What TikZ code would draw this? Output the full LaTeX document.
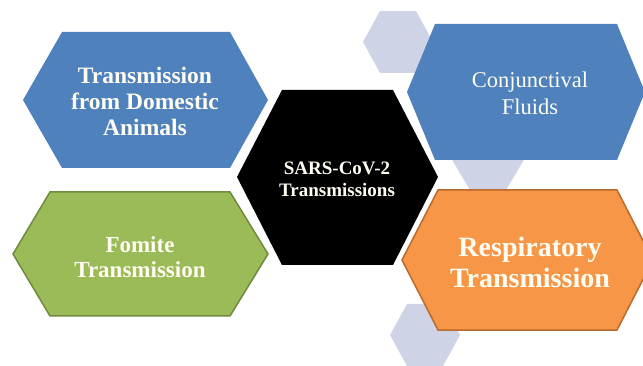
\documentclass[tikz,border=0pt]{standalone}
\usepackage{fontspec}
\setmainfont{Liberation Serif}

\definecolor{hexblue}{HTML}{4F81BD}
\definecolor{hexgreen}{HTML}{9BBB59}
\definecolor{hexgreenline}{HTML}{6F8A3C}
\definecolor{hexorange}{HTML}{F79646}
\definecolor{hexorangeline}{HTML}{B96A2C}
\definecolor{hexlav}{HTML}{CED4E6}
\definecolor{textcream}{HTML}{FFFDF2}

\begin{document}
\begin{tikzpicture}[x=1pt,y=-1pt]
            \useasboundingbox (0,0) rectangle (643,366);

            % small background hexagons
            \begin{scope}[every path/.style={fill=hexlav}]
                \path (363,42) -- (380,11) -- (416,11) -- (433,42) -- (416,73) -- (380,73) -- cycle;
                \path (451,158) -- (470,126) -- (506,126) -- (525,158) -- (506,190) -- (470,190) -- cycle;
                \path (390,335) -- (407,304) -- (443,304) -- (460,335) -- (443,366) -- (407,366) -- cycle;
            \end{scope}

            % big hexagons
            \fill[hexblue] (23,100) -- (62,32) -- (230,32) -- (268,100) -- (230,168) -- (62,168) -- cycle;
            \filldraw[fill=hexgreen,draw=hexgreenline,line width=1.5pt] (13,254) -- (50,192) -- (230,192) -- (268,254) -- (230,316) -- (50,316) -- cycle;
            \fill[black] (237,177) -- (282,90) -- (393,90) -- (438,177) -- (393,265) -- (282,265) -- cycle;
            \fill[hexblue] (407,92) -- (435,24) -- (617,24) -- (645,92) -- (617,160) -- (435,160) -- cycle;
            \filldraw[fill=hexorange,draw=hexorangeline,line width=1.5pt] (402,260) -- (438,190) -- (617,190) -- (653,260) -- (617,330) -- (438,330) -- cycle;

            \begin{scope}[every node/.style={align=center,text=textcream}]
                \node[font=\fontsize{23.5}{26}\selectfont\bfseries] (animals) at (145,101) {Transmission\\from Domestic\\Animals};
                \node[font=\fontsize{23}{25}\selectfont\bfseries] (fomite) at (140,257) {Fomite\\Transmission};
                \node[font=\fontsize{19}{22}\selectfont\bfseries] (sars) at (337,179) {SARS-CoV-2\\Transmissions};
                \node[font=\fontsize{22.5}{27}\selectfont] (conj) at (530,93) {Conjunctival\\Fluids};
                \node[font=\fontsize{28}{31}\selectfont\bfseries] (resp) at (530,262) {Respiratory\\Transmission};
            \end{scope}
\end{tikzpicture}
\end{document}
